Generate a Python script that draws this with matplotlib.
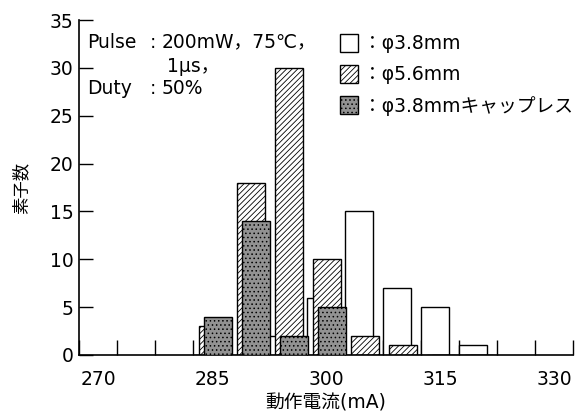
import numpy as np
import matplotlib
matplotlib.use('Agg')
import matplotlib.pyplot as plt

plt.rcParams['font.family'] = ['DejaVu Sans', 'Noto Sans CJK JP']
plt.rcParams['hatch.linewidth'] = 0.6

# 素子数 per 5 mA bin (bin centre in mA)
currents = [285, 290, 295, 300, 305, 310, 315, 320]
phi38 = [0, 0, 2, 6, 15, 7, 5, 1]
phi56 = [3, 18, 30, 10, 2, 1, 0, 0]
capless = [4, 14, 2, 5, 0, 0, 0, 0]

xticklabels = [270, 285, 300, 315, 330]
labels = ['：φ3.8mm', '：φ5.6mm', '：φ3.8mmキャップレス']

W, H = 578, 417
fig = plt.figure(figsize=(W / 100, H / 100), dpi=100)
ax = fig.add_axes([79 / W, 1 - 355 / H, (573 - 79) / W, (355 - 20) / H])

edges = np.array(currents) - 2.5
bw = 3.7
b1 = ax.bar(edges + 0.05, phi38, width=bw, align='edge', facecolor='white',
            edgecolor='black', linewidth=1.0, zorder=1)
b2 = ax.bar(edges + 0.8, phi56, width=bw, align='edge', facecolor='white',
            edgecolor='black', linewidth=1.0, hatch='//////', zorder=2)
b3 = ax.bar(edges + 1.4, capless, width=bw, align='edge', facecolor='#929292',
            edgecolor='black', linewidth=1.0, hatch='....', zorder=3)

ax.set_xlim(267.5, 332.5)
ax.set_ylim(0, 35)
ax.set_axisbelow(True)
for s in ['top', 'right']:
    ax.spines[s].set_visible(False)
ax.spines['left'].set_linewidth(1.2)
ax.spines['bottom'].set_linewidth(1.2)

ax.set_yticks(np.arange(0, 36, 5))
ax.tick_params(axis='y', direction='in', length=10, width=1.0, pad=4, labelsize=13.5)
ax.set_xticks(xticklabels)
ax.set_xticks(np.arange(267.5, 333, 5), minor=True)
ax.tick_params(axis='x', which='major', length=0, pad=11, labelsize=13.5)
ax.tick_params(axis='x', which='minor', direction='in', length=11, width=1.0)

ax.set_xlabel('動作電流(mA)', fontsize=13.5, labelpad=3)
ax.set_ylabel('素子数', fontsize=12.5, labelpad=14)

# measurement conditions
def px(x, y):
    return x / W, 1 - y / H

fs = 13.5
fig.text(*px(87, 42), 'Pulse', fontsize=fs, va='center')
fig.text(*px(150, 42), ':', fontsize=fs, va='center')
fig.text(*px(162, 42), '200mW，75℃，', fontsize=fs, va='center')
fig.text(*px(167, 66), '1μs，', fontsize=fs, va='center')
fig.text(*px(87, 88), 'Duty', fontsize=fs, va='center')
fig.text(*px(150, 88), ':', fontsize=fs, va='center')
fig.text(*px(162, 88), '50%', fontsize=fs, va='center')

lx, ly = ax.transAxes.inverted().transform(fig.transFigure.transform(px(340, 34)))
ax.legend([b1, b2, b3], labels, loc='upper left', bbox_to_anchor=(lx, ly),
          frameon=False, fontsize=fs, borderpad=0, borderaxespad=0,
          handlelength=0.95, handleheight=1.08, handletextpad=0.3,
          labelspacing=0.62)

fig.savefig('out.png', dpi=100)
